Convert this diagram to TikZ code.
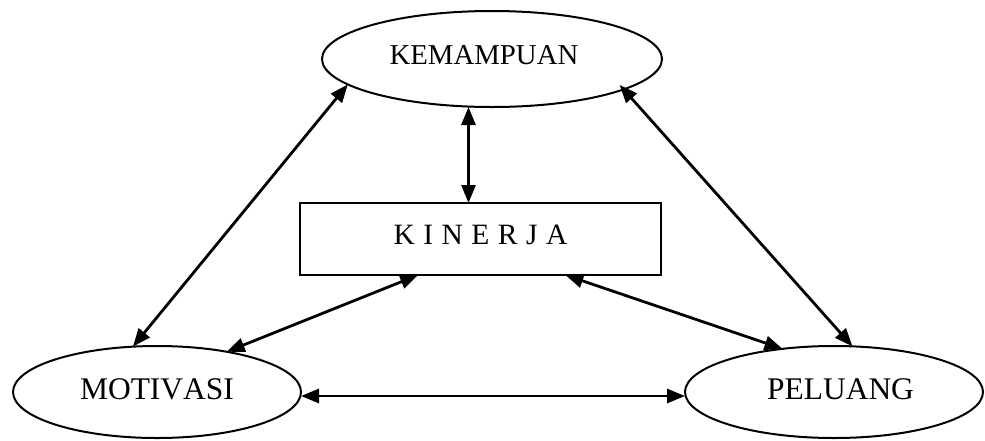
\documentclass[tikz,border=0pt]{standalone}
\usepackage{fontspec}
\setmainfont[Kerning=Off]{Liberation Serif}
\usetikzlibrary{shapes.geometric,arrows.meta,calc}

\tikzset{
  factor/.style={ellipse, draw, line width=2pt, inner sep=0pt, outer sep=0pt},
  topfont/.style={font=\fontsize{28.8}{30}\selectfont},
  lowfont/.style={font=\fontsize{31.5}{33}\selectfont},
  centerbox/.style={rectangle, draw, line width=2pt, inner sep=0pt, outer sep=0pt,
    minimum width=361pt, minimum height=72pt, font=\fontsize{29.5}{31}\selectfont},
  biarrow/.style={line width=2.8pt,
    {Triangle[length=18pt,width=14pt]}-{Triangle[length=18pt,width=14pt]}}
}

\begin{document}
\begin{tikzpicture}[x=1pt, y=-1pt]
  \useasboundingbox (0,0) rectangle (985,440);

  % the three outer factors
  \node[factor, topfont, minimum width=340pt, minimum height=96pt] (kem) at (492,59)
    {\raisebox{9pt}{\hspace*{-16pt}KEMAMPUAN}};
  \node[factor, lowfont, minimum width=288pt, minimum height=92pt] (mot) at (157,392)
    {\raisebox{5pt}{MOTIVASI}};
  \node[factor, lowfont, minimum width=298pt, minimum height=92pt] (pel) at (834,392)
    {\raisebox{5pt}{\hspace{13pt}PELUANG}};

  % performance in the middle
  \node[centerbox] (kin) at (480.5,239)
    {\raisebox{8pt}{\spaceskip=8.5pt K I N E R J A}};

  % two-way relations
  \draw[biarrow] ([xshift=-12pt]kin.north) -- ([xshift=-12pt]kin.north |- kem.south);
  \draw[biarrow] (kem.190) -- (mot.118);
  \draw[biarrow, shorten <=-6pt] (kem.347) -- (pel.68);
  \draw[biarrow] (kin.210) -- (mot.30);
  \draw[biarrow] (kin.337) -- (pel.140);
  \draw[biarrow] ([yshift=-4pt]mot.east) -- ([yshift=-4pt]mot.east -| pel.west);
\end{tikzpicture}
\end{document}
